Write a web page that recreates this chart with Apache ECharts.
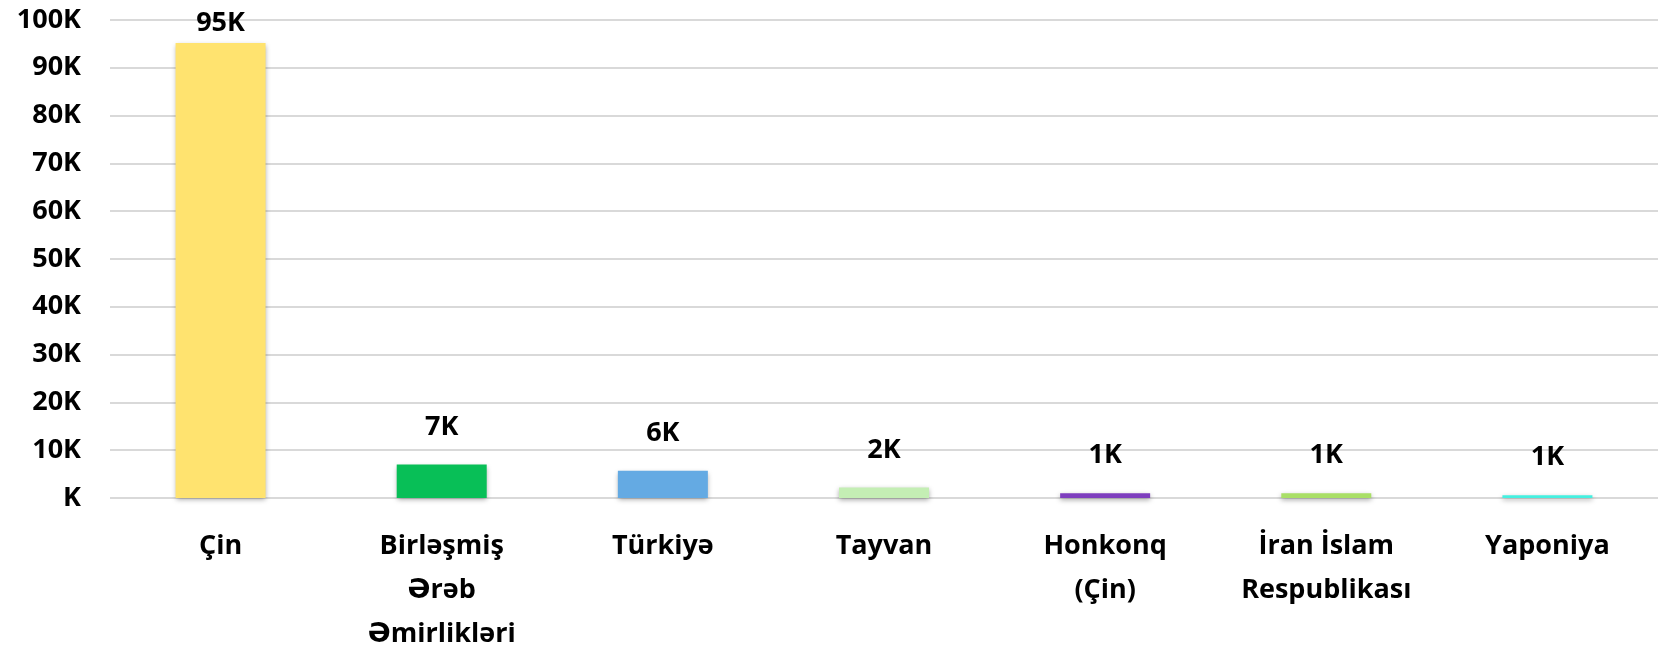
<!DOCTYPE html>
<html>
<head>
<meta charset="utf-8">
<script src="https://cdn.jsdelivr.net/npm/echarts@6/dist/echarts.min.js"></script>
<style>
  html, body { margin: 0; padding: 0; background: #fff; }
  #chart { width: 1658px; height: 656px; }
</style>
</head>
<body>
<div id="chart"></div>
<script>
const categories = ["Çin", "Birləşmiş\nƏrəb\nƏmirlikləri", "Türkiyə", "Tayvan", "Honkonq\n(Çin)", "İran İslam\nRespublikası", "Yaponiya"];
const values = [95200, 7000, 5700, 2200, 1000, 1000, 600];
const barColors = ["#FFE36F", "#08BF57", "#64AAE3", "#C4EEB4", "#7E3EBE", "#A9DF66", "#45F0E0"];
const yTicks = [0, 10000, 20000, 30000, 40000, 50000, 60000, 70000, 80000, 90000, 100000];

const FONT = "'Open Sans', 'DejaVu Sans', sans-serif";

const chart = echarts.init(document.getElementById("chart"), null, { renderer: "canvas" });

chart.setOption({
  animation: false,
  grid: { left: 110, right: 0, top: 20, bottom: 154, containLabel: false },
  xAxis: {
    type: "category",
    data: categories,
    axisLine: { show: false },
    axisTick: { show: false },
    axisLabel: {
      interval: 0,
      margin: 26,
      color: "#000",
      fontFamily: FONT,
      fontWeight: "bold",
      fontSize: 27,
      lineHeight: 44
    }
  },
  yAxis: {
    type: "value",
    min: yTicks[0],
    max: yTicks[yTicks.length - 1],
    interval: 10000,
    axisLine: { show: false },
    axisTick: { show: false },
    splitLine: { lineStyle: { color: "#D9D9D9", width: 2 } },
    axisLabel: {
      margin: 29,
      color: "#000",
      fontFamily: FONT,
      fontWeight: "bold",
      fontSize: 27,
      formatter: v => (v === 0 ? "" : v / 1000) + "K"
    }
  },
  series: [{
    type: "bar",
    barWidth: 90,
    data: values.map((v, i) => ({
      value: v,
      itemStyle: { color: barColors[i] },
      label: i === 0 ? { distance: 6 } : undefined
    })),
    itemStyle: {
      shadowBlur: 5,
      shadowColor: "rgba(0,0,0,0.35)",
      shadowOffsetY: 2
    },
    label: {
      show: true,
      position: "top",
      distance: 24,
      color: "#000",
      fontFamily: FONT,
      fontWeight: "bold",
      fontSize: 27,
      formatter: p => Math.round(p.value / 1000) + "K"
    }
  }]
});
</script>
</body>
</html>
